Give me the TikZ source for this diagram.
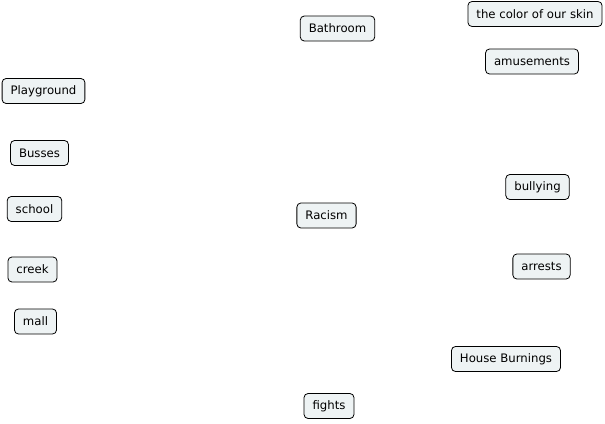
\documentclass[tikz,border=0pt]{standalone}
\usepackage{fontspec}
\setmainfont{DejaVu Sans}
\begin{document}
\begin{tikzpicture}[x=1pt,y=-1pt,
  cbox/.style={draw=black, fill=boxfill, rounded corners=4pt, minimum height=25pt, inner xsep=8.5pt, inner ysep=0pt, font=\fontsize{11.7}{13}\selectfont, line width=0.8pt}]
\definecolor{boxfill}{HTML}{EEF3F4}
\useasboundingbox (0,0) rectangle (605,423);
\node[cbox] (bathroom) at (337.5,28.5) {Bathroom};
\node[cbox] (skin) at (535,14) {the color of our skin};
\node[cbox] (amuse) at (532,61.5) {amusements};
\node[cbox] (play) at (43.5,91) {Playground};
\node[cbox] (busses) at (39.5,153) {Busses};
\node[cbox] (school) at (34.5,209) {school};
\node[cbox] (creek) at (32.5,269.5) {creek};
\node[cbox] (mall) at (35.5,321.5) {mall};
\node[cbox] (racism) at (326.5,215.5) {Racism};
\node[cbox] (bully) at (537.5,187) {bullying};
\node[cbox] (arrests) at (541.5,266.5) {arrests};
\node[cbox] (house) at (506,359) {House Burnings};
\node[cbox] (fights) at (329,406) {fights};
\end{tikzpicture}
\end{document}
